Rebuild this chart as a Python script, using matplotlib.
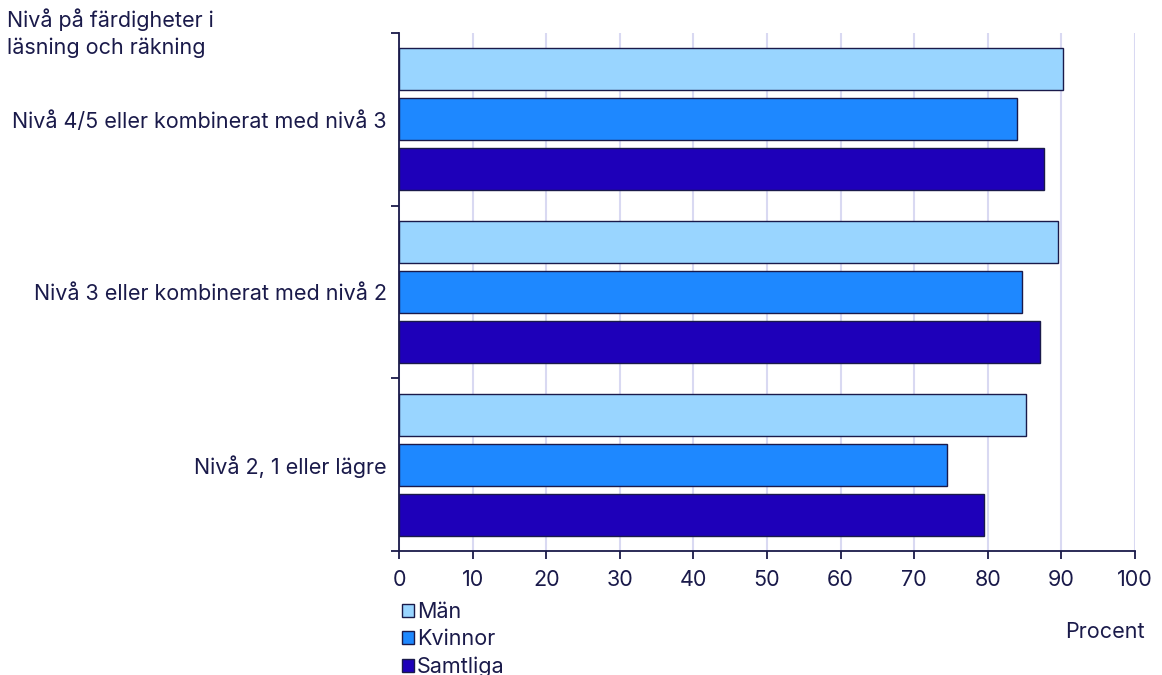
import numpy as np
import matplotlib
matplotlib.use("Agg")
import matplotlib.pyplot as plt
from matplotlib.patches import Patch

categories = ["Nivå 4/5 eller kombinerat med nivå 3",
              "Nivå 3 eller kombinerat med nivå 2",
              "Nivå 2, 1 eller lägre"]
series_names = ["Män", "Kvinnor", "Samtliga"]
man = [90.2, 89.6, 85.2]
kvinnor = [84.0, 84.6, 74.4]
samtliga = [87.6, 87.1, 79.5]
x_ticks = [0, 10, 20, 30, 40, 50, 60, 70, 80, 90, 100]

colors = ["#99D5FF", "#1E88FF", "#1E00B9"]
text_col = "#1A1A4A"
edge_col = "#1A1A4A"
grid_col = "#D9D9F2"
fs = 15.5

plt.rcParams["font.family"] = ["Inter", "DejaVu Sans"]
plt.rcParams["font.size"] = fs

fig = plt.figure(figsize=(11.62, 6.75), dpi=100)
ax = fig.add_axes([0.3434, 0.1837, 0.6334, 0.7674])

# categories top to bottom
y = np.arange(len(categories))[::-1].astype(float)
offsets = [-0.29, 0.0, 0.29]
for vals, off, col, name in zip([man, kvinnor, samtliga], offsets, colors, series_names):
    ax.barh(y - off, vals, height=0.243, color=col, edgecolor=edge_col,
            linewidth=1.0, zorder=3, label=name)

ax.set_xlim(0, 100)
ax.set_ylim(-0.5, len(categories) - 0.5)
ax.set_xticks(x_ticks)
ax.set_xticklabels([str(t) for t in x_ticks], color=text_col, fontsize=fs)
ax.grid(axis="x", color=grid_col, linewidth=1.5, zorder=0)
ax.set_axisbelow(True)

ax.set_yticks(y)
ax.set_yticklabels(categories, color=text_col, fontsize=fs)
ax.tick_params(axis="y", which="major", length=0, pad=9)
ax.set_yticks(np.arange(len(categories) + 1) - 0.5, minor=True)
ax.tick_params(axis="y", which="minor", length=6, width=1.3, color=edge_col)
ax.tick_params(axis="x", length=6, width=1.3, color=edge_col, pad=8)

for s in ["top", "right"]:
    ax.spines[s].set_visible(False)
for s in ["left", "bottom"]:
    ax.spines[s].set_color(edge_col)
    ax.spines[s].set_linewidth(1.3)

fig.text(0.006, 0.988, "Nivå på färdigheter i\nläsning och räkning", ha="left", va="top",
         color=text_col, fontsize=fs, linespacing=1.4)
fig.text(0.951, 0.063, "Procent", ha="center", va="center", color=text_col, fontsize=fs)

handles = [Patch(facecolor=c, edgecolor=edge_col, linewidth=1.0) for c in colors]
fig.legend(handles, series_names, loc="upper left", bbox_to_anchor=(0.337, 0.124),
           frameon=False, handlelength=0.55, handleheight=0.55, handletextpad=0.12,
           labelspacing=0.33, borderpad=0, labelcolor=text_col, fontsize=fs)

fig.savefig("out.png", dpi=100)
